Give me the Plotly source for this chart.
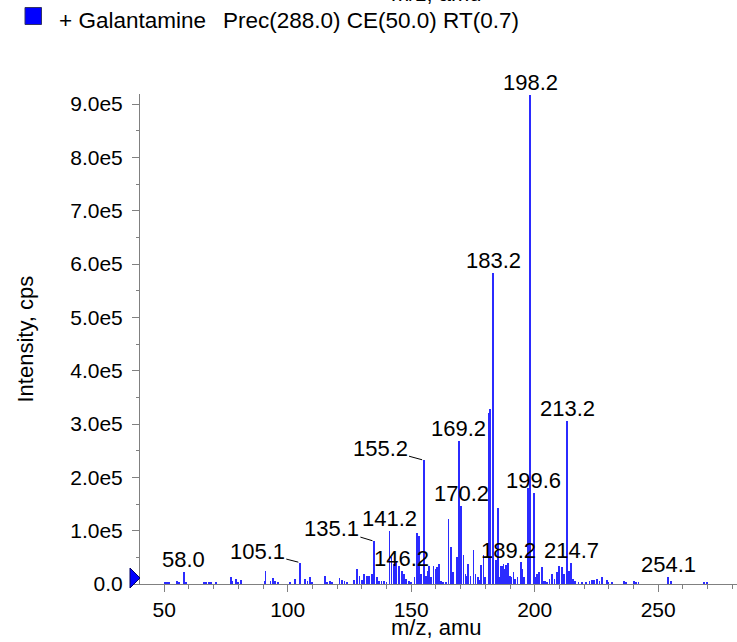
import plotly.graph_objects as go

# ---------------- data ----------------
mz_values = [50.4, 51.0, 52.0, 55.1, 56.0, 58.0, 58.8, 66.0, 67.0, 68.0, 69.0, 71.0,
             77.0, 77.6, 79.0, 80.0, 81.0, 90.6, 91.0, 93.0, 94.0, 95.0, 96.0, 101.0,
             103.0, 105.1, 107.0, 108.0, 109.1, 110.0, 115.0, 116.0, 117.0, 118.0,
             121.0, 122.0, 123.0, 124.0, 127.0, 128.2, 129.1, 130.0, 131.0, 132.0,
             133.0, 134.0, 134.6, 135.1, 136.0, 136.5, 137.0, 138.0, 139.0, 140.0,
             141.2, 142.0, 143.0, 144.0, 145.0, 146.2, 147.0, 148.0, 149.0, 150.0,
             151.3, 152.2, 153.2, 154.0, 155.2, 156.0, 156.7, 157.3, 158.0, 159.0,
             160.0, 160.6, 161.2, 162.0, 163.0, 164.0, 165.1, 166.0, 167.0, 168.4,
             169.2, 170.2, 171.2, 172.0, 172.5, 173.0, 174.0, 175.2, 176.0, 177.0,
             177.5, 178.3, 179.3, 180.0, 181.3, 182.0, 183.2, 184.3, 185.1, 185.7,
             186.2, 186.8, 187.4, 188.0, 188.5, 189.2, 190.0, 190.5, 191.4, 192.0,
             193.0, 194.4, 195.0, 195.8, 197.2, 198.2, 199.6, 200.2, 201.0, 201.6,
             202.9, 203.6, 204.4, 205.0, 206.0, 207.0, 208.0, 208.9, 210.0, 211.0,
             212.0, 213.2, 214.0, 214.7, 215.4, 216.3, 217.7, 219.1, 220.9, 222.2,
             223.2, 224.1, 225.2, 226.2, 227.2, 229.2, 229.9, 231.3, 236.2, 237.0,
             240.3, 241.1, 242.0, 254.1, 255.1, 268.6, 269.7]

intensity_values = [1900, 1900, 2500, 6200, 3100, 23000, 3000, 1900, 3000, 2500, 3700, 3000,
                    14000, 6000, 9400, 3700, 7500, 6000, 25000, 5000, 11000, 6000, 3000, 3000,
                    8800, 40000, 9400, 5000, 12500, 3000, 15600, 3000, 6000, 3000,
                    11000, 7500, 6000, 3000, 7500, 28000, 15600, 7500, 19000, 15600,
                    15600, 19000, 11000, 80000, 12500, 6000, 6000, 5000, 5000, 3000,
                    100000, 50000, 37500, 44000, 34000, 25000, 19000, 9400, 5000, 3000,
                    12500, 96000, 90000, 19000, 232000, 15600, 25000, 34000, 12500, 34000,
                    28000, 31000, 37500, 6000, 3000, 3000, 121000, 70000, 22000, 51000,
                    268000, 146000, 54000, 19000, 15600, 37500, 15600, 64000, 19000, 12500,
                    7500, 36000, 54000, 12500, 320000, 328000, 583000, 45000, 142000, 12500,
                    34000, 34000, 37500, 28000, 36000, 40000, 15600, 12500, 22000, 9400,
                    12500, 41000, 28000, 12500, 180000, 917000, 171000, 12500, 19000, 22000,
                    31000, 6000, 6000, 3000, 9400, 19000, 9400, 22000, 34000, 31000,
                    19000, 305000, 25000, 39000, 9400, 6000, 3000, 1900, 3000, 5000,
                    7500, 7500, 9400, 5000, 12500, 7500, 3000, 1900, 5000, 1900,
                    5000, 3000, 1900, 12500, 5000, 1900, 1900]

label_mz = [58.0, 105.1, 135.1, 141.2, 146.2, 155.2, 169.2, 170.2, 183.2,
            189.2, 198.2, 199.6, 213.2, 214.7, 254.1]

x_tick_vals = [50, 100, 150, 200, 250]
x_tick_labels = ["50", "100", "150", "200", "250"]
y_tick_vals = [0, 1e5, 2e5, 3e5, 4e5, 5e5, 6e5, 7e5, 8e5, 9e5]
y_tick_labels = ["0.0", "1.0e5", "2.0e5", "3.0e5", "4.0e5", "5.0e5",
                 "6.0e5", "7.0e5", "8.0e5", "9.0e5"]

legend_text = "+ Galantamine\u00a0\u00a0\u2009Prec(288.0) CE(50.0) RT(0.7)"
x_title = "m/z, amu"
y_title = "Intensity, cps"

assert len(mz_values) == len(intensity_values)

# ---------------- layout geometry ----------------
W, H = 737, 642
L, R, T, B = 140, 737, 94, 584
FONT = "Liberation Sans, Arial, sans-serif"
AXIS_GRAY = "#808080"


def px_x(p):
    return (p - L) / (R - L)


def px_y(p):
    return (B - p) / (B - T)


# labels with leader lines: pixel offset of text centre from the peak tip
leader_offsets = {105.1: (-43, -11), 135.1: (-43, -13), 155.2: (-44, -12)}

peak_lookup = dict(zip(mz_values, intensity_values))

fig = go.Figure()
fig.add_trace(go.Bar(
    x=mz_values, y=intensity_values, width=0.34,
    marker=dict(color="#2b2bff", line=dict(width=0)),
    hoverinfo="x+y", showlegend=False,
))

annotations = []
for m in label_mz:
    val = peak_lookup[m]
    txt = f"{m:.1f}"
    if m in leader_offsets:
        ax, ay = leader_offsets[m]
        annotations.append(dict(
            x=m, y=val, xref="x", yref="y", text=txt, showarrow=True,
            ax=ax, ay=ay, arrowhead=0, arrowwidth=1, arrowcolor="#000000",
            standoff=2, font=dict(family=FONT, size=22, color="#000000"),
        ))
    else:
        annotations.append(dict(
            x=m, y=val, xref="x", yref="y", text=txt, showarrow=False,
            xanchor="center", yanchor="bottom", yshift=-2,
            font=dict(family=FONT, size=22, color="#000000"),
        ))

# axis titles
annotations.append(dict(
    x=px_x(436), y=px_y(627.5), xref="paper", yref="paper", text=x_title,
    showarrow=False, xanchor="center", yanchor="middle",
    font=dict(family=FONT, size=22, color="#000000"),
))
annotations.append(dict(
    x=px_x(436), y=px_y(-6.5), xref="paper", yref="paper", text=x_title,
    showarrow=False, xanchor="center", yanchor="middle",
    font=dict(family=FONT, size=22, color="#000000"),
))
annotations.append(dict(
    x=px_x(24.5), y=px_y(339), xref="paper", yref="paper", text=y_title,
    showarrow=False, xanchor="center", yanchor="middle", textangle=-90,
    font=dict(family=FONT, size=22, color="#000000"),
))
# legend text
annotations.append(dict(
    x=px_x(57), y=px_y(20.5), xref="paper", yref="paper", text=legend_text,
    showarrow=False, xanchor="left", yanchor="middle",
    font=dict(family=FONT, size=22.5, color="#000000"),
))

shapes = [
    # legend swatch
    dict(type="rect", xref="paper", yref="paper",
         x0=px_x(25), x1=px_x(41.5), y0=px_y(7.5), y1=px_y(24.5),
         fillcolor="#0000ff", line=dict(color="#333366", width=1)),
    # baseline marker triangle at the origin of the y axis
    dict(type="path", xref="paper", yref="paper", xsizemode="pixel", ysizemode="pixel",
         xanchor=0, yanchor=0, path="M -10 16 L 0 6 L -10 -4 Z",
         fillcolor="#0000ff", line=dict(color="#000066", width=1)),
]

fig.update_layout(
    width=W, height=H, autosize=False,
    margin=dict(l=L, r=W - R, t=T, b=H - B, pad=0),
    paper_bgcolor="white", plot_bgcolor="white",
    font=dict(family=FONT, size=21, color="#000000"),
    bargap=0, showlegend=False,
    annotations=annotations, shapes=shapes,
)

fig.update_xaxes(
    range=[40.2, 281.9], showgrid=False, zeroline=False,
    showline=True, linecolor=AXIS_GRAY, linewidth=1,
    ticks="outside", ticklen=7, tickwidth=1, tickcolor=AXIS_GRAY,
    tickvals=x_tick_vals, ticktext=x_tick_labels,
    tickfont=dict(family=FONT, size=21, color="#000000"),
    minor=dict(tick0=0, dtick=10, ticks="outside", ticklen=4, tickcolor=AXIS_GRAY),
)
fig.update_yaxes(
    range=[0, 9.19e5], showgrid=False, zeroline=False,
    showline=True, linecolor=AXIS_GRAY, linewidth=1,
    ticks="outside", ticklen=7, tickwidth=1, tickcolor=AXIS_GRAY,
    tickvals=y_tick_vals, ticktext=y_tick_labels,
    tickfont=dict(family=FONT, size=21, color="#000000"),
    ticklabelstandoff=5,
    minor=dict(tick0=0, dtick=5e4, ticks="outside", ticklen=3, tickcolor=AXIS_GRAY),
)

# the page is shown in a window exactly the figure's size: drop the body margin
fig.write_html(
    "out.html",
    config={"displayModeBar": False},
    post_script="document.body.style.margin='0';document.body.style.overflow='hidden';",
)
